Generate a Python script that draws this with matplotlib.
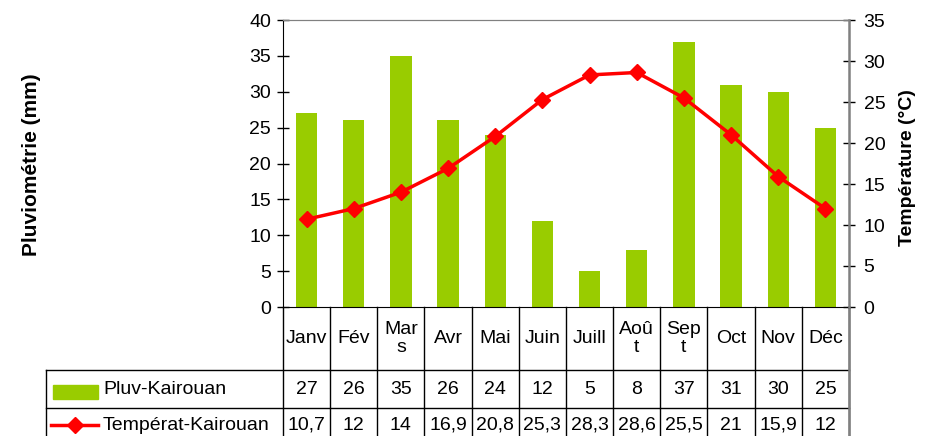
import matplotlib
matplotlib.use("Agg")
import matplotlib.pyplot as plt
from matplotlib.transforms import blended_transform_factory
import numpy as np

months = ["Janv", "Fév", "Mar\ns", "Avr", "Mai", "Juin", "Juill", "Aoû\nt", "Sep\nt", "Oct", "Nov", "Déc"]
pluie = [27, 26, 35, 26, 24, 12, 5, 8, 37, 31, 30, 25]
temp = [10.7, 12, 14, 16.9, 20.8, 25.3, 28.3, 28.6, 25.5, 21, 15.9, 12]
pluie_txt = ["27", "26", "35", "26", "24", "12", "5", "8", "37", "31", "30", "25"]
temp_txt = ["10,7", "12", "14", "16,9", "20,8", "25,3", "28,3", "28,6", "25,5", "21", "15,9", "12"]

GREEN = "#99CC00"
RED = "#FF0000"
W, H = 936, 436

plt.rcParams['font.family'] = ['Liberation Sans', 'DejaVu Sans']
fig = plt.figure(figsize=(W / 100, H / 100), dpi=100)

# plot area in pixels
x0, x1, y0, y1 = 283, 849, 20, 307
ax = fig.add_axes([x0 / W, (H - y1) / H, (x1 - x0) / W, (y1 - y0) / H])
ax2 = ax.twinx()

x = np.arange(len(months))
ax.bar(x, pluie, width=0.45, color=GREEN, zorder=2)
ax.set_xlim(-0.5, len(months) - 0.5)
ax.set_ylim(0, 40)
ax.set_yticks(range(0, 41, 5))
ax.set_xticks([])

ax2.plot(x, temp, color=RED, lw=2.5, marker="D", ms=8, zorder=3)
ax2.set_ylim(0, 35)
ax2.set_yticks(range(0, 36, 5))

for a in (ax, ax2):
    a.tick_params(axis="y", direction="inout", length=9, width=1, labelsize=14)
ax.tick_params(axis="y", pad=4)
ax2.tick_params(axis="y", pad=6)

ax.spines["left"].set_color("black")
ax.spines["bottom"].set_color("black")
ax.spines["top"].set_color("#808080")
ax.spines["right"].set_visible(False)
ax2.spines["left"].set_visible(False)
ax2.spines["top"].set_color("#808080")
ax2.spines["bottom"].set_visible(False)
ax2.spines["right"].set_color("#808080")
ax2.spines["right"].set_linewidth(1.8)

fig.text(32 / W, 1 - 165 / H, "Pluviométrie (mm)", rotation=90, ha="center", va="center",
         fontsize=15, fontweight="bold")
fig.text(908 / W, 1 - 168 / H, "Température (°C)", rotation=90, ha="center", va="center",
         fontsize=14, fontweight="bold")

# data table under the chart
def ya(py):
    return (y1 - py) / (y1 - y0)

tx = ax.get_xaxis_transform()
tf = blended_transform_factory(fig.transFigure, ax.transAxes)
kw = dict(color="black", lw=1, clip_on=False)

for b in np.arange(-0.5, len(months), 1.0):
    ax.plot([b, b], [ya(307), ya(445)], transform=tx, **kw)
ax.plot([46 / W, x1 / W], [ya(370), ya(370)], transform=tf, **kw)
ax.plot([46 / W, x1 / W], [ya(407.5), ya(407.5)], transform=tf, **kw)
ax.plot([46 / W, 46 / W], [ya(370), ya(445)], transform=tf, **kw)
ax.plot([x1 / W, x1 / W], [ya(307), ya(445)], transform=tf, color="#808080", lw=1.8, clip_on=False)

for i in range(len(months)):
    ax.text(x[i], ya(338.5), months[i], transform=tx, ha="center", va="center",
            fontsize=14, linespacing=1.05)
    ax.text(x[i], ya(389), pluie_txt[i], transform=tx, ha="center", va="center", fontsize=14)
    ax.text(x[i], ya(425), temp_txt[i], transform=tx, ha="center", va="center", fontsize=14)

# legend keys
ax.add_patch(plt.Rectangle((53 / W, ya(399)), 45 / W, ya(385) - ya(399), transform=tf,
                           color=GREEN, clip_on=False))
ax.text(103 / W, ya(389), "Pluv-Kairouan", transform=tf, ha="left", va="center", fontsize=14)
ax.plot([51 / W, 98 / W], [ya(425), ya(425)], transform=tf, color=RED, lw=2.5, clip_on=False)
ax.plot([75 / W], [ya(425)], transform=tf, color=RED, marker="D", ms=8, clip_on=False)
ax.text(103 / W, ya(425), "Températ-Kairouan", transform=tf, ha="left", va="center", fontsize=14)

fig.savefig("out.png", dpi=100)
